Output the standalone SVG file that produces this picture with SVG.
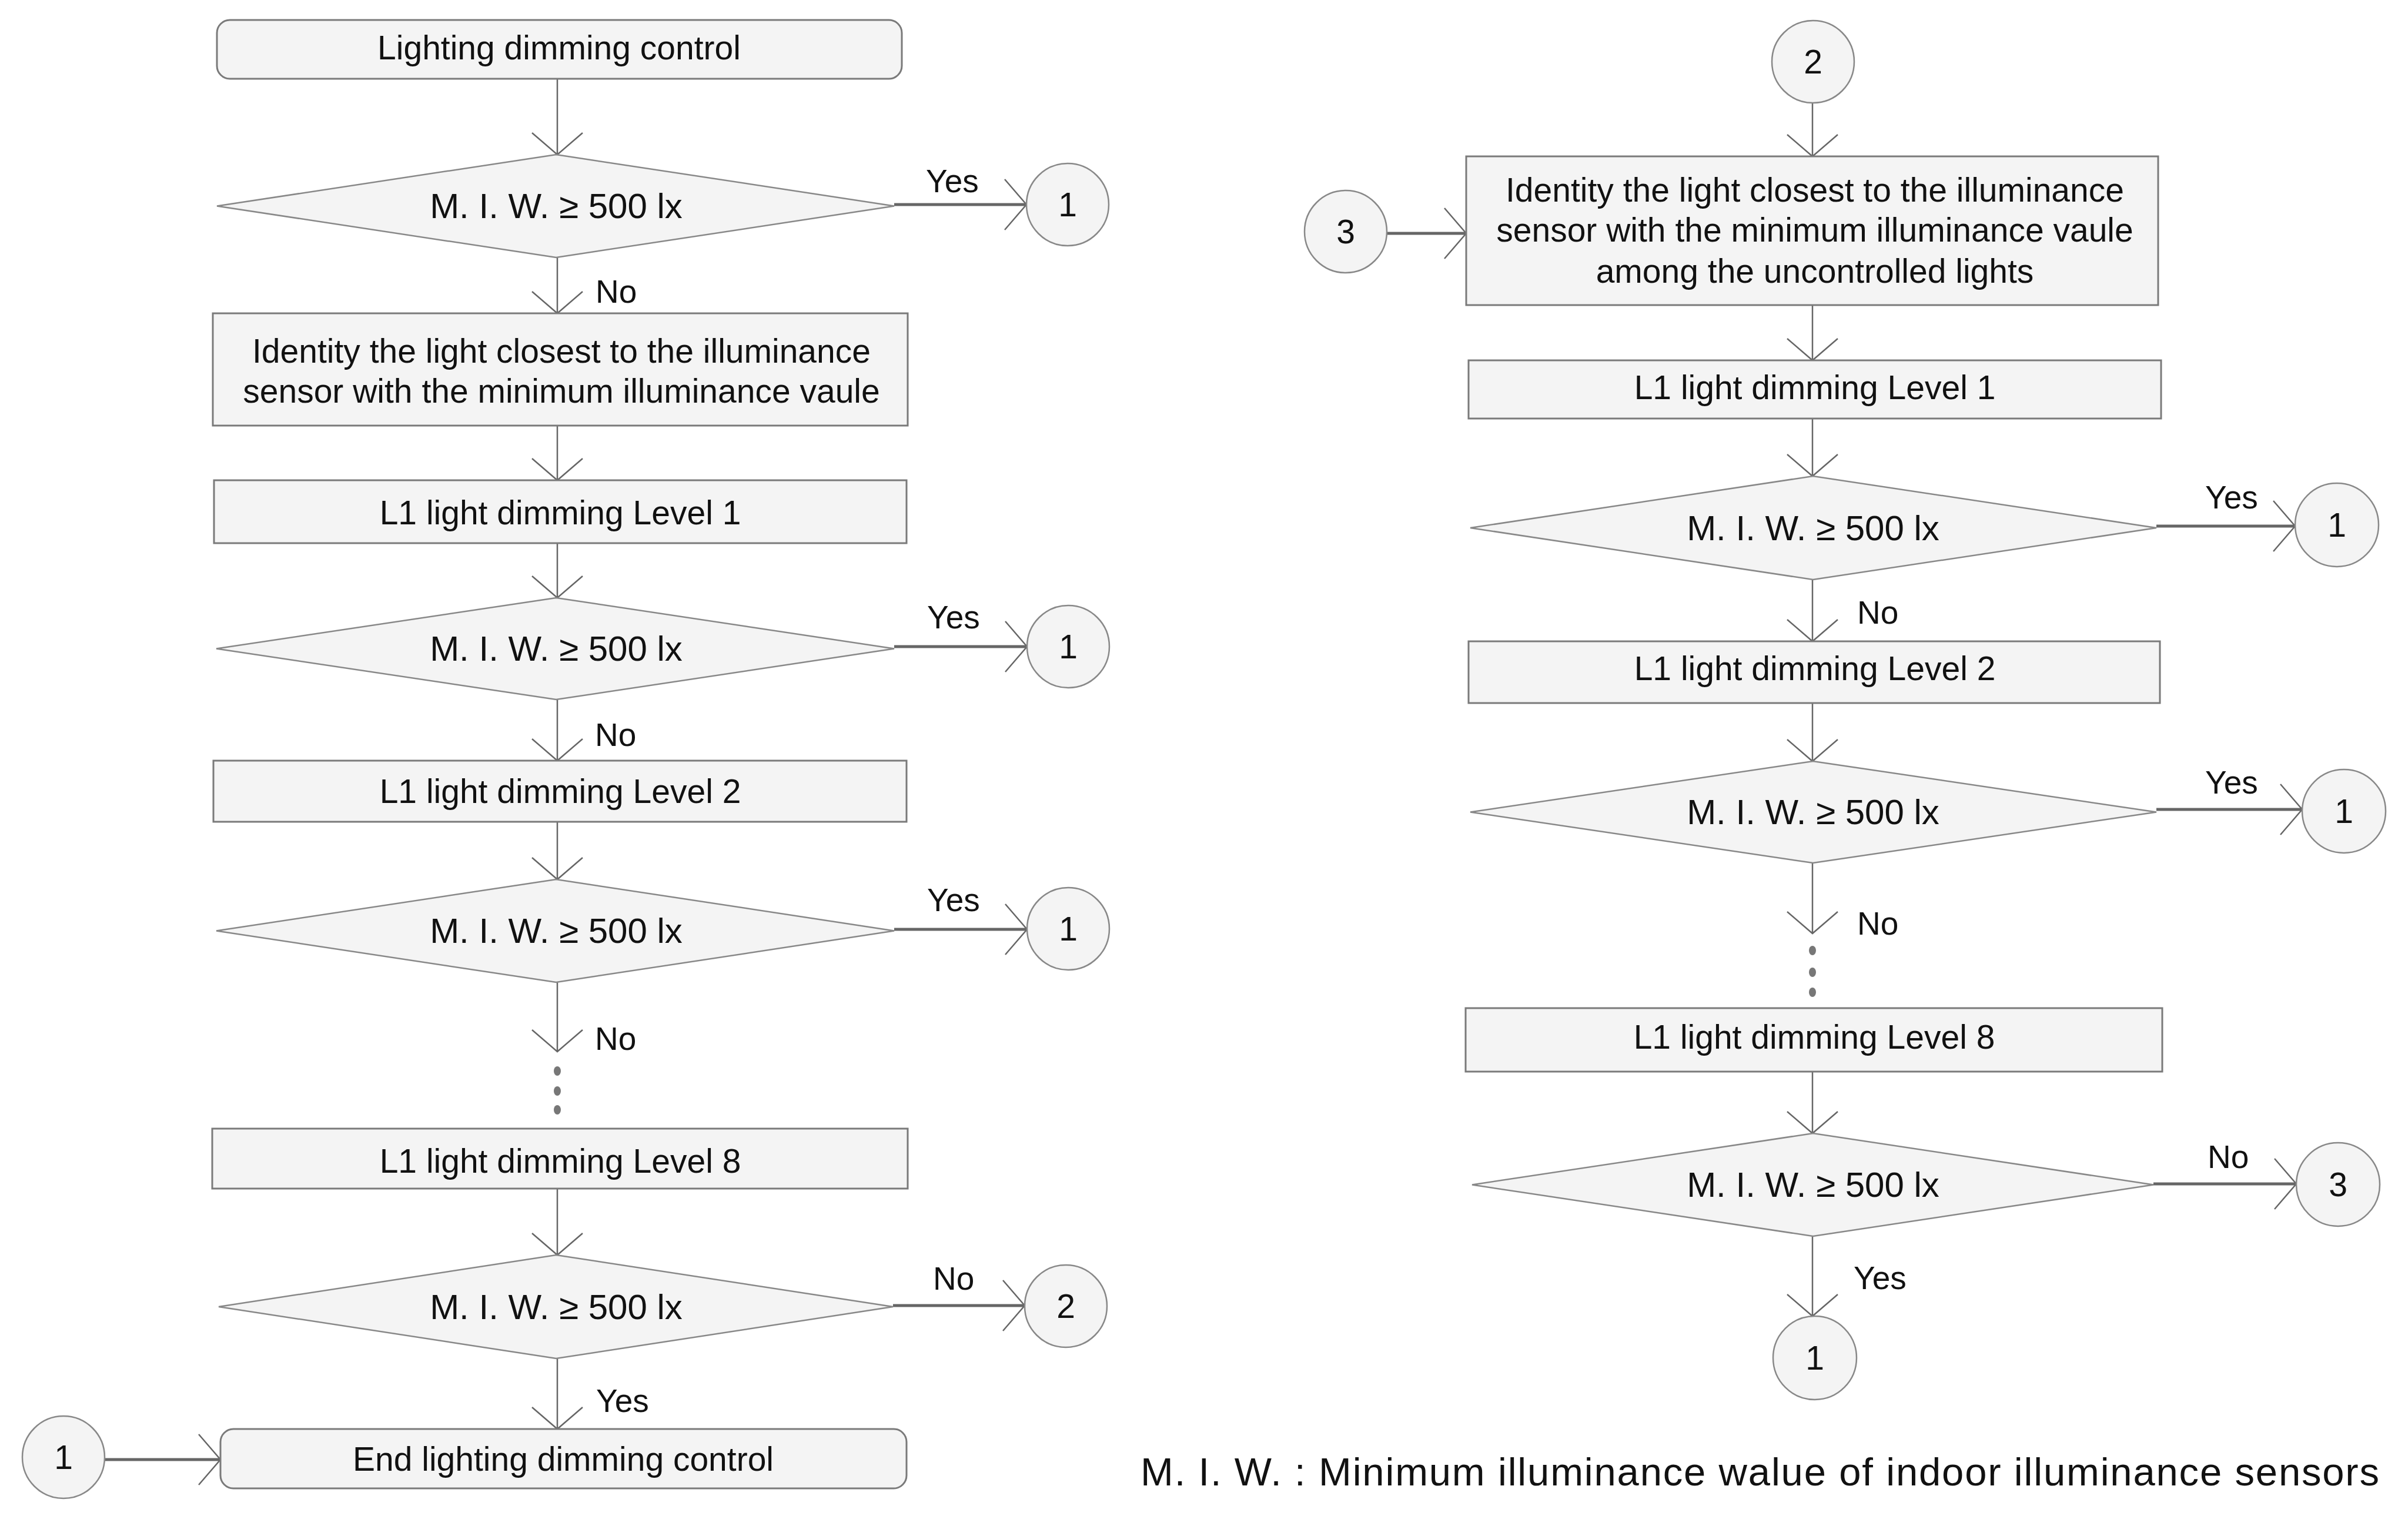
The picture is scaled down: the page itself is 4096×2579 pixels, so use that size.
<svg xmlns="http://www.w3.org/2000/svg" width="4096" height="2579" viewBox="0 0 4096 2579">
<style>
.box{fill:#f4f4f4;stroke:#7a7a7a;stroke-width:3}
.dia{fill:#f4f4f4;stroke:#888;stroke-width:2.5}
.circ{fill:#f4f4f4;stroke:#888;stroke-width:2.5}
.t{font-family:"Liberation Sans",Arial,sans-serif;font-size:57px;fill:#111;text-anchor:middle}
.dt{font-size:60px}
.lbl{font-family:"Liberation Sans",Arial,sans-serif;font-size:55px;fill:#111}
.v{stroke:#666;stroke-width:2.5;fill:none;marker-end:url(#arr)}
.h{stroke:#666;stroke-width:5;fill:none;marker-end:url(#arr)}
.dot{fill:#777}
</style>
<defs>
<marker id="arr" markerUnits="userSpaceOnUse" markerWidth="100" markerHeight="100" viewBox="-50 -50 100 100" refX="0" refY="0" orient="auto" overflow="visible">
<path d="M-37,-43 L0,0 L-37,43" fill="none" stroke="#666" stroke-width="2.5"/>
</marker>
</defs>
<rect width="4096" height="2579" fill="#fff"/>

<g id="connectors">
<line class="v" x1="948" y1="134" x2="948" y2="263"/>
<line class="h" x1="1521" y1="348" x2="1746" y2="348"/>
<line class="v" x1="948" y1="438" x2="948" y2="533"/>
<line class="v" x1="948" y1="724" x2="948" y2="817"/>
<line class="v" x1="948" y1="924" x2="948" y2="1017"/>
<line class="h" x1="1521" y1="1100" x2="1747" y2="1100"/>
<line class="v" x1="948" y1="1190" x2="948" y2="1294"/>
<line class="v" x1="948" y1="1398" x2="948" y2="1496"/>
<line class="h" x1="1521" y1="1581" x2="1747" y2="1581"/>
<line class="v" x1="948" y1="1671" x2="948" y2="1789"/>
<line class="v" x1="948" y1="2022" x2="948" y2="2135"/>
<line class="h" x1="1519" y1="2221" x2="1743" y2="2221"/>
<line class="v" x1="948" y1="2311" x2="948" y2="2431"/>
<line class="h" x1="178" y1="2483" x2="375" y2="2483"/>
<line class="v" x1="3083" y1="175" x2="3083" y2="266"/>
<line class="h" x1="2359" y1="397" x2="2494" y2="397"/>
<line class="v" x1="3083" y1="519" x2="3083" y2="613"/>
<line class="v" x1="3083" y1="712" x2="3083" y2="810"/>
<line class="h" x1="3668" y1="895" x2="3904" y2="895"/>
<line class="v" x1="3083" y1="986" x2="3083" y2="1091"/>
<line class="v" x1="3083" y1="1196" x2="3083" y2="1295"/>
<line class="h" x1="3668" y1="1377" x2="3916" y2="1377"/>
<line class="v" x1="3083" y1="1468" x2="3083" y2="1588"/>
<line class="v" x1="3083" y1="1823" x2="3083" y2="1928"/>
<line class="h" x1="3663" y1="2014" x2="3906" y2="2014"/>
<line class="v" x1="3083" y1="2103" x2="3083" y2="2239"/>
<ellipse class="dot" cx="948" cy="1822" rx="6" ry="8"/>
<ellipse class="dot" cx="948" cy="1856" rx="6" ry="8"/>
<ellipse class="dot" cx="948" cy="1888" rx="6" ry="8"/>
<ellipse class="dot" cx="3083" cy="1617" rx="6" ry="8"/>
<ellipse class="dot" cx="3083" cy="1654" rx="6" ry="8"/>
<ellipse class="dot" cx="3083" cy="1688" rx="6" ry="8"/>
<text class="lbl" x="1575" y="327">Yes</text>
<text class="lbl" x="1013" y="515">No</text>
<text class="lbl" x="1577" y="1069">Yes</text>
<text class="lbl" x="1012" y="1269">No</text>
<text class="lbl" x="1577" y="1550">Yes</text>
<text class="lbl" x="1012" y="1786">No</text>
<text class="lbl" x="1587" y="2194">No</text>
<text class="lbl" x="1014" y="2402">Yes</text>
<text class="lbl" x="3751" y="865">Yes</text>
<text class="lbl" x="3159" y="1061">No</text>
<text class="lbl" x="3751" y="1350">Yes</text>
<text class="lbl" x="3159" y="1590">No</text>
<text class="lbl" x="3755" y="1987">No</text>
<text class="lbl" x="3153" y="2193">Yes</text>
</g>

<g id="start"><rect class="box" x="369" y="34" width="1165" height="100" rx="22"/><text class="t" x="951" y="101">Lighting dimming control</text></g>
<g id="dec1"><polygon class="dia" points="369,350.5 946,263 1521,350.5 946,438"/><text class="t dt" x="946" y="371">M. I. W. ≥ 500 lx</text></g>
<g id="c1a"><circle class="circ" cx="1816" cy="348" r="70"/><text class="t" x="1816" y="368">1</text></g>
<g id="identify1"><rect class="box" x="362" y="533" width="1182" height="191"/><text class="t" x="955" y="617">Identity the light closest to the illuminance</text><text class="t" x="955" y="685">sensor with the minimum illuminance vaule</text></g>
<g id="lv1"><rect class="box" x="364" y="817" width="1178" height="107"/><text class="t" x="953" y="892">L1 light dimming Level 1</text></g>
<g id="dec2"><polygon class="dia" points="368,1103.5 946,1017 1521,1103.5 946,1190"/><text class="t dt" x="946" y="1124">M. I. W. ≥ 500 lx</text></g>
<g id="c1b"><circle class="circ" cx="1817" cy="1100" r="70"/><text class="t" x="1817" y="1120">1</text></g>
<g id="lv2"><rect class="box" x="363" y="1294" width="1179" height="104"/><text class="t" x="953" y="1366">L1 light dimming Level 2</text></g>
<g id="dec3"><polygon class="dia" points="368,1583.5 946,1496 1521,1583.5 946,1671"/><text class="t dt" x="946" y="1604">M. I. W. ≥ 500 lx</text></g>
<g id="c1c"><circle class="circ" cx="1817" cy="1580" r="70"/><text class="t" x="1817" y="1600">1</text></g>
<g id="lv8"><rect class="box" x="361" y="1920" width="1183" height="102"/><text class="t" x="953" y="1995">L1 light dimming Level 8</text></g>
<g id="dec4"><polygon class="dia" points="372,2223 946,2135 1519,2223 946,2311"/><text class="t dt" x="946" y="2244">M. I. W. ≥ 500 lx</text></g>
<g id="c2a"><circle class="circ" cx="1813" cy="2222" r="70"/><text class="t" x="1813" y="2242">2</text></g>
<g id="end"><rect class="box" x="375" y="2431" width="1167" height="101" rx="22"/><text class="t" x="958" y="2502">End lighting dimming control</text></g>
<g id="c1d"><circle class="circ" cx="108" cy="2479" r="70"/><text class="t" x="108" y="2499">1</text></g>

<g id="c2b"><circle class="circ" cx="3084" cy="105" r="70"/><text class="t" x="3084" y="125">2</text></g>
<g id="identify2"><rect class="box" x="2494" y="266" width="1177" height="253"/><text class="t" x="3087" y="343">Identity the light closest to the illuminance</text><text class="t" x="3087" y="411">sensor with the minimum illuminance vaule</text><text class="t" x="3087" y="481">among the uncontrolled lights</text></g>
<g id="c3a"><circle class="circ" cx="2289" cy="394" r="70"/><text class="t" x="2289" y="414">3</text></g>
<g id="rlv1"><rect class="box" x="2498" y="613" width="1178" height="99"/><text class="t" x="3087" y="679">L1 light dimming Level 1</text></g>
<g id="rdec1"><polygon class="dia" points="2501,898 3084,810 3668,898 3084,986"/><text class="t dt" x="3084" y="919">M. I. W. ≥ 500 lx</text></g>
<g id="rc1a"><circle class="circ" cx="3975" cy="893" r="71"/><text class="t" x="3975" y="913">1</text></g>
<g id="rlv2"><rect class="box" x="2498" y="1091" width="1176" height="105"/><text class="t" x="3087" y="1157">L1 light dimming Level 2</text></g>
<g id="rdec2"><polygon class="dia" points="2501,1381.5 3084,1295 3668,1381.5 3084,1468"/><text class="t dt" x="3084" y="1402">M. I. W. ≥ 500 lx</text></g>
<g id="rc1b"><circle class="circ" cx="3987" cy="1380" r="71"/><text class="t" x="3987" y="1400">1</text></g>
<g id="rlv8"><rect class="box" x="2493" y="1715" width="1185" height="108"/><text class="t" x="3086" y="1784">L1 light dimming Level 8</text></g>
<g id="rdec3"><polygon class="dia" points="2504,2015.5 3084,1928 3663,2015.5 3084,2103"/><text class="t dt" x="3084" y="2036">M. I. W. ≥ 500 lx</text></g>
<g id="rc3"><circle class="circ" cx="3977" cy="2015" r="71"/><text class="t" x="3977" y="2035">3</text></g>
<g id="rc1c"><circle class="circ" cx="3087" cy="2310" r="71"/><text class="t" x="3087" y="2330">1</text></g>

<g id="legend"><text x="1940" y="2527" textLength="2107" style="font-family:'Liberation Sans',Arial,sans-serif;font-size:67px;fill:#111">M. I. W. : Minimum illuminance walue of indoor illuminance sensors</text></g>
</svg>
